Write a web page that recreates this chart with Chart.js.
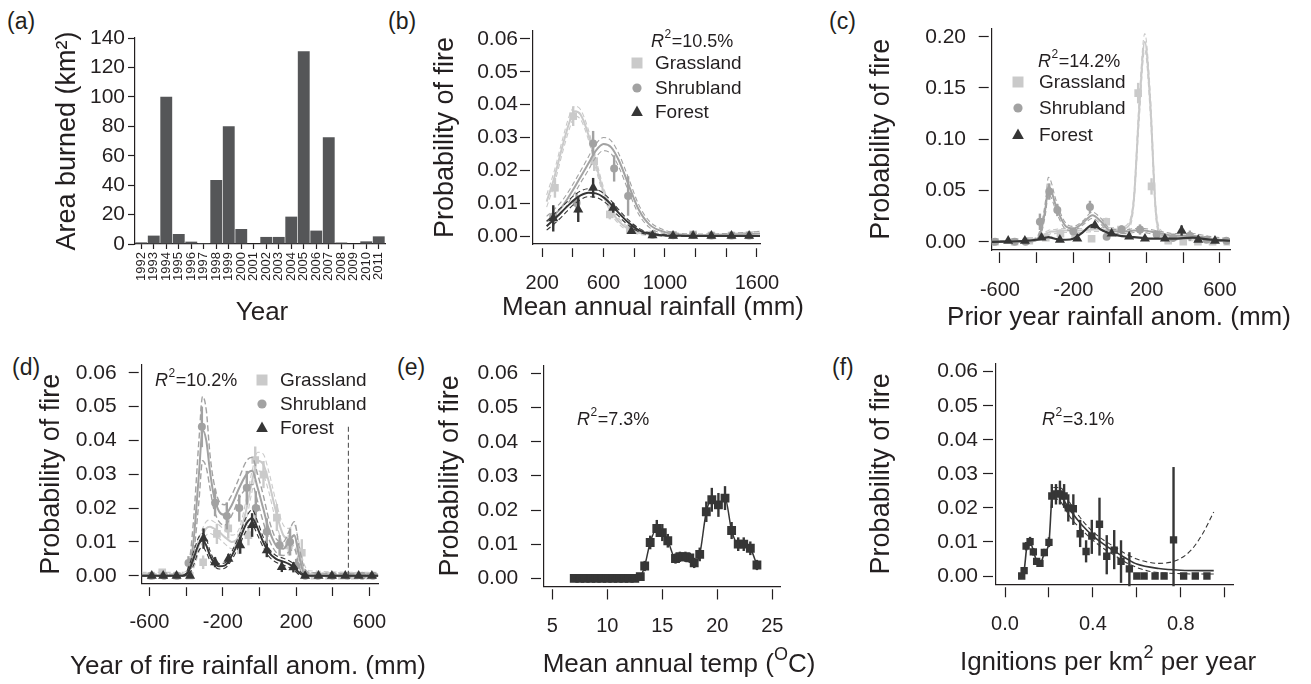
<!DOCTYPE html>
<html>
<head>
<meta charset="utf-8">
<script src="https://cdn.jsdelivr.net/npm/chart.js@4/dist/chart.umd.min.js"></script>
<style>
  body { margin: 0; background: #fff; width: 1311px; height: 684px; overflow: hidden; position: relative;
         font-family: "Liberation Sans", Arial, sans-serif; }
  canvas { position: absolute; }
  .tag { position: absolute; font-size: 23px; line-height: 1; color: #231f20; }
</style>
</head>
<body>
<div class="tag" style="left:7px;top:10px">(a)</div>
<div class="tag" style="left:388px;top:10px">(b)</div>
<div class="tag" style="left:829px;top:10px">(c)</div>
<div class="tag" style="left:12px;top:356px">(d)</div>
<div class="tag" style="left:397px;top:356px">(e)</div>
<div class="tag" style="left:832px;top:356px">(f)</div>
<script>
// ---------- data ----------
const years = ['1992','1993','1994','1995','1996','1997','1998','1999','2000','2001',
               '2002','2003','2004','2005','2006','2007','2008','2009','2010','2011'];
const areaBurned = [1.1, 5.7, 100, 6.8, 1.6, 0.7, 43.5, 80, 10.2, 0, 4.8, 4.8, 18.6, 131, 9.1, 72.5, 1.0, 0.3, 1.8, 5.2];

const landCover = ['Grassland', 'Shrubland', 'Forest'];
const r2Text = ['10.5%', '14.2%', '10.2%', '7.3%', '3.1%'];

// (b) mean annual rainfall
const bGrassX = [283, 402, 539, 641, 771, 917, 1053, 1184, 1303, 1434, 1549];
const bGrassY = [0.0147, 0.0365, 0.0228, 0.0066, 0.0020, 0.0005, 0.0004, 0.0005, 0.0002, 0.0002, 0.0002];
const bGrassErr = [0.003, 0.003, 0.003, 0.0015, 0.001, 0.0005, 0.0004, 0.0005, 0.0003, 0.0003, 0.0003];
const bShrubX = [272, 424, 532, 669, 760, 790, 919, 1053, 1184, 1303, 1434, 1549];
const bShrubY = [0.006, 0.0101, 0.0282, 0.0206, 0.0122, 0.0025, 0.0004, 0.0003, 0.0004, 0.0002, 0.0002, 0.0002];
const bShrubErr = [0.003, 0.003, 0.0038, 0.004, 0.006, 0.001, 0.0005, 0.0003, 0.0005, 0.0003, 0.0003, 0.0003];
const bForestX = [272, 435, 532, 663, 782, 919, 1053, 1184, 1303, 1434, 1549];
const bForestY = [0.0054, 0.0081, 0.0147, 0.0086, 0.0015, 0.0002, 0.0001, 0.0001, 0.0001, 0.0001, 0.0001];
const bForestErr = [0.004, 0.0038, 0.003, 0.0015, 0.0008, 0.0003, 0.0002, 0.0002, 0.0002, 0.0002, 0.0002];
const bFitX = [229, 280, 330, 380, 413, 450, 500, 550, 600, 650, 700, 760, 830, 900, 1000, 1100, 1250, 1400, 1620];
const bGrassFit = [0.0105, 0.018, 0.027, 0.035, 0.038, 0.037, 0.031, 0.022, 0.0135, 0.0078, 0.0045, 0.0022, 0.001, 0.0005, 0.0002, 0.0001, 0.0001, 0.0001, 0.0001];
const bGrassHi = [0.0125, 0.020, 0.029, 0.037, 0.0395, 0.0385, 0.0325, 0.0235, 0.0148, 0.0088, 0.0053, 0.0028, 0.0014, 0.0007, 0.0004, 0.0003, 0.0004, 0.0007, 0.0015];
const bGrassLo = [0.0088, 0.016, 0.025, 0.033, 0.0365, 0.0355, 0.0295, 0.0205, 0.0122, 0.0068, 0.0037, 0.0016, 0.0006, 0.0002, 0, 0, 0, 0, 0];
const bShrubFit = [0.0045, 0.0065, 0.009, 0.0125, 0.015, 0.018, 0.022, 0.026, 0.028, 0.027, 0.023, 0.016, 0.008, 0.0035, 0.0012, 0.0005, 0.0003, 0.0004, 0.0008];
const bShrubHi = [0.006, 0.0082, 0.0108, 0.0142, 0.0168, 0.0198, 0.024, 0.028, 0.030, 0.029, 0.025, 0.018, 0.0095, 0.0045, 0.0018, 0.0008, 0.0006, 0.0008, 0.0014];
const bShrubLo = [0.0032, 0.005, 0.0073, 0.0108, 0.0132, 0.0162, 0.020, 0.024, 0.026, 0.025, 0.021, 0.014, 0.0066, 0.0026, 0.0007, 0.0002, 0.0001, 0.0001, 0.0002];
const bForestFit = [0.003, 0.0052, 0.0075, 0.0098, 0.0112, 0.0124, 0.0132, 0.013, 0.0118, 0.0096, 0.007, 0.0042, 0.0018, 0.0007, 0.0002, 0.0001, 0, 0, 0];
const bForestHi = [0.0045, 0.0068, 0.009, 0.0112, 0.0126, 0.0137, 0.0144, 0.0142, 0.013, 0.0107, 0.008, 0.005, 0.0024, 0.001, 0.0004, 0.0002, 0.0001, 0.0001, 0.0001];
const bForestLo = [0.0018, 0.0038, 0.006, 0.0085, 0.0099, 0.0111, 0.012, 0.0118, 0.0106, 0.0085, 0.006, 0.0034, 0.0013, 0.0004, 0.0001, 0, 0, 0, 0];

// (c) prior year rainfall anomaly
const cGrassX = [-627, -520, -440, -350, -270, -190, -100, -20, 60, 154, 227, 318, 400, 480, 560, 640];
const cGrassY = [0, 0, 0.001, 0.004, 0.008, 0.006, 0.003, 0.0195, 0.012, 0.145, 0.054, 0.001, 0, 0, 0, 0];
const cGrassErr = [0.0005, 0.0005, 0.001, 0.003, 0.004, 0.003, 0.002, 0.004, 0.004, 0.01, 0.008, 0.003, 0.002, 0.001, 0.001, 0.001];
const cShrubX = [-627, -520, -460, -382, -331, -287, -200, -109, -18, 64, 164, 255, 345, 436, 527, 636];
const cShrubY = [0, 0, 0, 0.0195, 0.049, 0.031, 0.010, 0.034, 0.005, 0.012, 0.012, 0.007, 0.004, 0.006, 0.002, 0.001];
const cShrubErr = [0.0005, 0.0005, 0.0005, 0.008, 0.008, 0.006, 0.003, 0.006, 0.003, 0.004, 0.005, 0.004, 0.004, 0.005, 0.002, 0.001];
const cForestX = [-555, -464, -373, -273, -178, -82, 9, 105, 191, 300, 391, 482, 573];
const cForestY = [0.001, 0.001, 0.004, 0.002, 0.003, 0.016, 0.008, 0.005, 0.003, 0.003, 0.011, 0.002, 0.001];
const cForestErr = [0.0005, 0.0005, 0.0015, 0.001, 0.0015, 0.003, 0.002, 0.0015, 0.0015, 0.0015, 0.005, 0.0015, 0.001];
const cFitX = [-645, -450, -400, -370, -350, -336, -320, -300, -270, -240, -200, -150, -95, -50, 0, 50, 100, 130, 160, 190, 220, 250, 280, 350, 450, 550, 655];
const cGrassFit = [0, 0.0005, 0.003, 0.006, 0.008, 0.009, 0.010, 0.010, 0.011, 0.011, 0.011, 0.011, 0.012, 0.012, 0.012, 0.012, 0.015, 0.040, 0.130, 0.195, 0.135, 0.030, 0.008, 0.004, 0.003, 0.002, 0.001];
const cGrassHi = [0.001, 0.0015, 0.0045, 0.008, 0.010, 0.011, 0.012, 0.012, 0.013, 0.013, 0.013, 0.013, 0.014, 0.014, 0.014, 0.014, 0.018, 0.045, 0.140, 0.203, 0.145, 0.036, 0.011, 0.006, 0.005, 0.004, 0.003];
const cGrassLo = [0, 0, 0.0015, 0.004, 0.006, 0.007, 0.008, 0.008, 0.009, 0.009, 0.009, 0.009, 0.010, 0.010, 0.010, 0.010, 0.012, 0.035, 0.120, 0.187, 0.125, 0.025, 0.005, 0.002, 0.001, 0.0005, 0];
const cShrubFit = [0, 0, 0.002, 0.015, 0.035, 0.054, 0.050, 0.038, 0.024, 0.015, 0.013, 0.018, 0.026, 0.020, 0.011, 0.010, 0.010, 0.011, 0.011, 0.011, 0.010, 0.009, 0.008, 0.006, 0.006, 0.003, 0.001];
const cShrubHi = [0.001, 0.001, 0.004, 0.020, 0.042, 0.063, 0.058, 0.044, 0.028, 0.018, 0.015, 0.020, 0.029, 0.023, 0.013, 0.012, 0.012, 0.013, 0.013, 0.013, 0.012, 0.011, 0.010, 0.008, 0.008, 0.005, 0.003];
const cShrubLo = [0, 0, 0.001, 0.011, 0.029, 0.047, 0.043, 0.033, 0.020, 0.012, 0.011, 0.016, 0.023, 0.017, 0.009, 0.008, 0.008, 0.009, 0.009, 0.009, 0.008, 0.007, 0.006, 0.004, 0.004, 0.001, 0];
const cForestFit = [0, 0.001, 0.002, 0.003, 0.004, 0.0045, 0.004, 0.003, 0.002, 0.002, 0.003, 0.009, 0.0165, 0.012, 0.008, 0.006, 0.005, 0.0045, 0.004, 0.0035, 0.003, 0.003, 0.003, 0.003, 0.004, 0.002, 0.001];

// (d) year of fire rainfall anomaly
const dGrassX = [-590, -530, -450, -380, -307, -232, -170, -115, -60, -23, 22, 95, 160, 231, 300, 380, 450, 520, 600];
const dGrassY = [0, 0.001, 0, 0, 0.004, 0.0124, 0.014, 0.0094, 0.012, 0.0342, 0.0299, 0.0172, 0.009, 0.0068, 0, 0, 0, 0, 0];
const dGrassErr = [0.0005, 0.001, 0.0005, 0.0005, 0.002, 0.003, 0.003, 0.003, 0.003, 0.004, 0.004, 0.004, 0.003, 0.004, 0.0005, 0.0005, 0.0005, 0.0005, 0.0005];
const dShrubX = [-590, -520, -450, -387, -314, -242, -178, -110, -69, -20, 40, 110, 167, 200, 250, 320, 400, 480, 560, 620];
const dShrubY = [0, 0, 0, 0.0038, 0.044, 0.0216, 0.0177, 0.020, 0.026, 0.020, 0.013, 0.009, 0.010, 0.003, 0, 0, 0, 0, 0, 0];
const dShrubErr = [0.0005, 0.0005, 0.0005, 0.002, 0.006, 0.004, 0.004, 0.004, 0.005, 0.005, 0.004, 0.003, 0.004, 0.002, 0.0005, 0.0005, 0.0005, 0.0005, 0.0005, 0.0005];
const dForestX = [-587, -525, -452, -378, -305, -242, -169, -105, -40, 40, 122, 185, 249, 322, 395, 468, 541, 613];
const dForestY = [0, 0, 0, 0, 0.011, 0.004, 0.005, 0.009, 0.015, 0.0075, 0.0026, 0.0025, 0, 0, 0, 0, 0, 0];
const dForestErr = [0.0003, 0.0003, 0.0003, 0.0005, 0.003, 0.0015, 0.0015, 0.0025, 0.0035, 0.002, 0.0015, 0.0015, 0.0003, 0.0003, 0.0003, 0.0003, 0.0003, 0.0003];
const dFitX = [-642, -420, -390, -360, -330, -310, -290, -270, -250, -220, -190, -150, -110, -70, -40, -10, 20, 50, 90, 130, 160, 190, 215, 240, 270, 648];
const dGrassFit = [0, 0, 0.001, 0.004, 0.009, 0.012, 0.014, 0.0145, 0.014, 0.013, 0.0115, 0.010, 0.012, 0.020, 0.028, 0.034, 0.033, 0.028, 0.019, 0.012, 0.011, 0.012, 0.007, 0.002, 0.0005, 0];
const dGrassHi = [0.001, 0.001, 0.002, 0.006, 0.011, 0.014, 0.016, 0.0165, 0.016, 0.015, 0.0135, 0.012, 0.014, 0.023, 0.031, 0.0365, 0.036, 0.031, 0.022, 0.015, 0.014, 0.015, 0.010, 0.004, 0.0015, 0.001];
const dGrassLo = [0, 0, 0, 0.002, 0.007, 0.010, 0.012, 0.0125, 0.012, 0.011, 0.0095, 0.008, 0.010, 0.017, 0.025, 0.031, 0.030, 0.025, 0.016, 0.009, 0.008, 0.009, 0.004, 0.0005, 0, 0];
const dShrubFit = [0, 0, 0.001, 0.010, 0.030, 0.043, 0.040, 0.031, 0.024, 0.019, 0.018, 0.021, 0.026, 0.030, 0.031, 0.026, 0.020, 0.014, 0.009, 0.008, 0.010, 0.012, 0.006, 0.001, 0, 0];
const dShrubHi = [0.0005, 0.0005, 0.002, 0.016, 0.040, 0.053, 0.049, 0.036, 0.028, 0.022, 0.021, 0.024, 0.029, 0.034, 0.035, 0.030, 0.024, 0.017, 0.011, 0.010, 0.013, 0.016, 0.009, 0.003, 0.001, 0.0005];
const dShrubLo = [0, 0, 0, 0.006, 0.022, 0.034, 0.032, 0.026, 0.020, 0.016, 0.015, 0.018, 0.023, 0.026, 0.027, 0.022, 0.016, 0.011, 0.007, 0.006, 0.007, 0.008, 0.003, 0, 0, 0];
const dForestFit = [0, 0, 0.001, 0.005, 0.0095, 0.0105, 0.009, 0.006, 0.004, 0.0028, 0.003, 0.006, 0.0105, 0.0155, 0.017, 0.014, 0.010, 0.007, 0.005, 0.0042, 0.0035, 0.0025, 0.001, 0.0002, 0, 0];
const dForestHi = [0, 0, 0.002, 0.007, 0.0115, 0.0125, 0.011, 0.0075, 0.005, 0.0036, 0.0038, 0.0072, 0.012, 0.0175, 0.0195, 0.016, 0.0115, 0.0082, 0.006, 0.0052, 0.0045, 0.0034, 0.0016, 0.0005, 0.0001, 0];
const dForestLo = [0, 0, 0, 0.003, 0.0075, 0.0085, 0.007, 0.0045, 0.003, 0.002, 0.0022, 0.0048, 0.009, 0.0135, 0.015, 0.012, 0.0085, 0.0058, 0.004, 0.0032, 0.0025, 0.0016, 0.0004, 0, 0, 0];
const dSpikeX = [485, 485];
const dSpikeY = [0, 0.044];

// (e) mean annual temperature
const eTemp = [7.0, 7.5, 8.0, 8.5, 9.0, 9.5, 10.0, 10.5, 11.0, 11.5, 12.0, 12.5, 13.0, 13.4, 13.9, 14.5, 15.0, 15.5,
               16.2, 16.6, 17.1, 17.5, 17.9, 18.4, 19.0, 19.5, 20.1, 20.7, 21.3, 21.9, 22.4, 23.0, 23.6];
const eProb = [0, 0, 0, 0, 0, 0, 0, 0, 0, 0, 0, 0, 0.0005, 0.0036, 0.0105, 0.0146, 0.0134, 0.011,
               0.0058, 0.0063, 0.0063, 0.006, 0.0045, 0.007, 0.0195, 0.023, 0.0215, 0.0235, 0.014, 0.010, 0.010, 0.0088, 0.0039];
const eErr = [0.0003, 0.0003, 0.0003, 0.0003, 0.0003, 0.0003, 0.0003, 0.0003, 0.0003, 0.0003, 0.0003, 0.0003, 0.0005, 0.0015, 0.002, 0.0025, 0.0025, 0.002,
              0.0015, 0.0015, 0.0015, 0.0015, 0.0015, 0.002, 0.003, 0.0035, 0.0035, 0.0035, 0.0025, 0.002, 0.002, 0.002, 0.0015];

// (f) ignitions
const fIgn = [0.076, 0.087, 0.096, 0.114, 0.129, 0.144, 0.159, 0.179, 0.200, 0.213, 0.232, 0.250, 0.269, 0.288, 0.311, 0.342,
              0.369, 0.395, 0.430, 0.463, 0.497, 0.528, 0.566, 0.600, 0.633, 0.683, 0.724, 0.767, 0.813, 0.866, 0.919];
const fProb = [0, 0.0016, 0.0088, 0.0101, 0.0071, 0.0043, 0.0037, 0.0069, 0.0099, 0.0235, 0.0241, 0.0241, 0.0235, 0.020, 0.0198, 0.0124,
               0.0072, 0.0117, 0.0152, 0.0058, 0.0076, 0.0043, 0.0021, 0, 0, 0, 0, 0.0106, 0, 0, 0];
const fLo = [0, 0.0008, 0.0075, 0.0088, 0.006, 0.0035, 0.003, 0.0058, 0.0085, 0.020, 0.021, 0.021, 0.020, 0.016, 0.015, 0.0085,
             0.004, 0.0065, 0.006, 0.0005, 0.002, -0.002, -0.003, 0, 0, 0, 0, -0.003, 0, 0, 0];
const fHi = [0, 0.0024, 0.010, 0.0115, 0.0082, 0.0052, 0.0045, 0.008, 0.0114, 0.027, 0.027, 0.028, 0.027, 0.024, 0.024, 0.0165,
             0.0105, 0.0165, 0.023, 0.012, 0.0135, 0.0105, 0.007, 0, 0, 0, 0, 0.032, 0, 0, 0];
const fFitX = [0.076, 0.087, 0.1, 0.114, 0.13, 0.145, 0.16, 0.18, 0.2, 0.215, 0.24, 0.27, 0.3, 0.35, 0.4, 0.45, 0.5, 0.55, 0.6, 0.7, 0.8, 0.9, 0.95];
const fFitY = [0, 0.0016, 0.0088, 0.0101, 0.0071, 0.0043, 0.0037, 0.0069, 0.0099, 0.0235, 0.0245, 0.022, 0.019, 0.015, 0.0118, 0.0093, 0.0072, 0.0052, 0.0035, 0.0022, 0.0017, 0.0016, 0.0016];
const fBandX = [0.22, 0.25, 0.3, 0.35, 0.4, 0.45, 0.5, 0.55, 0.6, 0.65, 0.7, 0.75, 0.8, 0.85, 0.9, 0.95];
const fBandHi = [0.026, 0.026, 0.021, 0.0165, 0.013, 0.0105, 0.0085, 0.0065, 0.005, 0.0041, 0.0037, 0.004, 0.0052, 0.0078, 0.0125, 0.0188];
const fBandLo = [0.023, 0.022, 0.017, 0.0135, 0.0105, 0.008, 0.006, 0.004, 0.0025, 0.0015, 0.001, 0.0008, 0.0007, 0.0006, 0.0006, 0.0006];

const probTicks = [0, 0.01, 0.02, 0.03, 0.04, 0.05, 0.06];
const anomTicks = [-600, -400, -200, 0, 200, 400, 600];
const anomLabels = [-600, -200, 200, 600];

// ---------- drawing ----------
const INK = '#231f20';
const GRASS = '#cacaca', SHRUB = '#a2a2a2', FOREST = '#363636', BAR = '#555658';
const FONT = '"Liberation Sans", Arial, sans-serif';
const TICK_FS = 20, YTICK_FS = 21, YTITLE_FS = 27, XTITLE_FS = 26;
Chart.defaults.font.family = FONT;
Chart.defaults.color = INK;
Chart.defaults.animation = false;

const legendItems = [
  { label: landCover[0], style: 'rect', color: GRASS, r: 5.5 },
  { label: landCover[1], style: 'circle', color: SHRUB, r: 4.6 },
  { label: landCover[2], style: 'triangle', color: FOREST, r: 6.5 }
];

function pts(xs, ys) { return xs.map((x, i) => ({ x: x, y: ys[i] })); }

function line(xs, ys, col, w, dash, tension) {
  return { data: pts(xs, ys), showLine: true, pointRadius: 0, borderColor: col, backgroundColor: col,
           borderWidth: w, borderDash: dash, cubicInterpolationMode: tension === 0 ? 'default' : 'monotone',
           tension: 0, fill: false };
}

function marks(xs, ys, lo, hi, col, style, r) {
  return { data: pts(xs, ys), showLine: false, pointStyle: style, pointRadius: r, backgroundColor: col,
           borderColor: col, borderWidth: 0, errLo: lo, errHi: hi, errColor: col };
}

function withErr(ys, err, sign) { return ys.map((v, i) => v + sign * err[i]); }

// painter's order: first pushed is drawn first (bottom)
function stack(sets) { sets.forEach((d, i) => { d.order = sets.length - i; }); return sets; }

const errorBars = {
  id: 'errorBars',
  afterDatasetDraw(chart, args) {
    const ds = chart.data.datasets[args.index];
    if (!ds.errLo) return;
    const xs = chart.scales.x, ys = chart.scales.y, ctx = chart.ctx;
    ctx.save();
    ctx.strokeStyle = ds.errColor;
    ctx.lineWidth = 2.4;
    ds.data.forEach((p, i) => {
      const px = xs.getPixelForValue(p.x);
      ctx.beginPath();
      ctx.moveTo(px, ys.getPixelForValue(ds.errLo[i]));
      ctx.lineTo(px, ys.getPixelForValue(ds.errHi[i]));
      ctx.stroke();
    });
    ctx.restore();
  }
};

function marker(ctx, style, x, y, r) {
  ctx.beginPath();
  if (style === 'rect') ctx.rect(x - r, y - r, 2 * r, 2 * r);
  else if (style === 'circle') ctx.arc(x, y, r, 0, Math.PI * 2);
  else { ctx.moveTo(x, y - r); ctx.lineTo(x + r * 0.9, y + r * 0.62); ctx.lineTo(x - r * 0.9, y + r * 0.62); ctx.closePath(); }
  ctx.fill();
}

// text runs: plain strings, or {sup: '2'} for a raised small part
function richText(ctx, runs, cx, cy, size) {
  const big = size + 'px ' + FONT, small = Math.round(size * 0.68) + 'px ' + FONT;
  let w = 0;
  runs.forEach(r => { ctx.font = typeof r === 'string' ? big : small; w += ctx.measureText(typeof r === 'string' ? r : r.sup).width; });
  let x = cx - w / 2;
  runs.forEach(r => {
    const s = typeof r === 'string';
    ctx.font = s ? big : small;
    const t = s ? r : r.sup;
    ctx.fillText(t, x, s ? cy : cy - size * 0.38);
    x += ctx.measureText(t).width;
  });
}

const notes = {
  id: 'notes',
  afterDraw(chart, args, o) {
    const ctx = chart.ctx;
    ctx.save();
    ctx.textBaseline = 'middle';
    ctx.textAlign = 'left';
    ctx.fillStyle = INK;
    if (o.xTitle) richText(ctx, o.xTitle.runs, o.xTitle.x - o.ox, o.xTitle.y - o.oy, XTITLE_FS);
    if (o.r2) {
      let x = o.r2.x - o.ox;
      const y = o.r2.y - o.oy;
      ctx.font = 'italic 18px ' + FONT;
      ctx.fillText('R', x, y);
      x += ctx.measureText('R').width + 0.5;
      ctx.font = '12px ' + FONT;
      ctx.fillText('2', x, y - 7);
      x += ctx.measureText('2').width + 0.5;
      ctx.font = '18px ' + FONT;
      ctx.fillText('=' + o.r2.text, x, y);
    }
    if (o.legend) {
      ctx.font = '19px ' + FONT;
      o.legend.rows.forEach((ry, i) => {
        const it = legendItems[i];
        ctx.fillStyle = it.color;
        marker(ctx, it.style, o.legend.mx - o.ox, ry - o.oy, it.r);
        ctx.fillStyle = INK;
        ctx.fillText(it.label, o.legend.tx - o.ox, ry - o.oy + 1);
      });
    }
    ctx.restore();
  }
};

function panel(p) {
  const [cx, cy, cw, ch] = p.rect;
  const [bl, bt, br, bb] = p.box;
  const cv = document.createElement('canvas');
  cv.width = cw; cv.height = ch;
  cv.style.left = cx + 'px'; cv.style.top = cy + 'px';
  document.body.appendChild(cv);
  const yTitleLH = YTITLE_FS * 1.2, tickLH = (p.x.fs || TICK_FS) * 1.2;

  const x = {
    border: { display: true, color: INK, width: 1.2 },
    grid: { display: true, drawOnChartArea: false, offset: false, tickLength: p.x.tl, tickBorderDash: p.x.dash || [],
            tickColor: INK, tickWidth: 1.2 },
    ticks: { color: INK, font: { size: p.x.fs || TICK_FS }, autoSkip: false,
             minRotation: p.x.rot || 0, maxRotation: p.x.rot || 0,
             padding: p.x.rot ? p.x.pad : p.x.labelY - bb - p.x.tl - tickLH / 2 },
    title: { display: false },
    afterFit: s => { s.height = cy + ch - bb; }
  };
  if (p.x.ticksAt) {
    x.type = 'linear'; x.min = p.x.min; x.max = p.x.max;
    x.afterBuildTicks = s => { s.ticks = p.x.ticksAt.map(v => ({ value: v })); };
    x.ticks.callback = v => p.x.labels.includes(v) ? p.x.fmt(v) : '';
  }
  const y = {
    type: 'linear', min: p.y.min, max: p.y.max,
    border: { display: true, color: INK, width: 1.2 },
    grid: { display: true, drawOnChartArea: false, tickLength: p.y.tl, tickBorderDash: p.y.dash || [],
            tickColor: INK, tickWidth: 1.2 },
    ticks: { color: INK, font: { size: YTICK_FS }, padding: bl - p.y.tl - p.y.labelRight, callback: p.y.fmt },
    afterBuildTicks: s => { s.ticks = p.y.ticksAt.map(v => ({ value: v })); },
    title: { display: true, text: p.y.title, color: INK, font: { size: YTITLE_FS },
             padding: { top: p.y.titleX - cx - yTitleLH / 2, bottom: 0 } },
    afterFit: s => { s.width = bl - cx; }
  };
  const notesOpt = { ox: cx, oy: cy, xTitle: { runs: p.x.title, x: p.x.titleX, y: p.x.titleY } };
  if (p.r2) notesOpt.r2 = p.r2;
  if (p.legend) notesOpt.legend = p.legend;

  new Chart(cv, {
    type: p.type || 'scatter',
    data: { labels: p.labels, datasets: p.datasets },
    options: {
      responsive: false, devicePixelRatio: 1, animation: false,
      layout: { padding: { left: 0, top: bt - cy, right: cx + cw - br, bottom: 0 } },
      scales: { x: x, y: y },
      plugins: { legend: { display: false }, tooltip: { enabled: false }, notes: notesOpt }
    },
    plugins: [errorBars, notes]
  });
}

const probFmt = v => v.toFixed(2);
const intFmt = v => String(v);

// (a)
panel({
  type: 'bar', rect: [0, 0, 400, 335], box: [135, 38, 385, 244], labels: years,
  datasets: [{ data: areaBurned, backgroundColor: BAR, barPercentage: 1, categoryPercentage: 0.95, borderWidth: 0 }],
  x: { title: ['Year'], titleX: 262, titleY: 313, tl: 5, pad: 3, fs: 13, rot: 90 },
  y: { title: 'Area burned (km²)', min: 0, max: 140, ticksAt: [0, 20, 40, 60, 80, 100, 120, 140], fmt: intFmt,
       tl: 7, labelRight: 125, titleX: 68 }
});

// (b)
panel({
  rect: [385, 0, 430, 335], box: [533, 31, 760, 244],
  datasets: stack([
    line(bFitX, bGrassHi, GRASS, 1.1, [5, 3]), line(bFitX, bGrassLo, GRASS, 1.1, [5, 3]), line(bFitX, bGrassFit, GRASS, 2, []),
    marks(bGrassX, bGrassY, withErr(bGrassY, bGrassErr, -1), withErr(bGrassY, bGrassErr, 1), GRASS, 'rect', 5.4),
    line(bFitX, bShrubHi, SHRUB, 1.1, [5, 3]), line(bFitX, bShrubLo, SHRUB, 1.1, [5, 3]), line(bFitX, bShrubFit, SHRUB, 2, []),
    marks(bShrubX, bShrubY, withErr(bShrubY, bShrubErr, -1), withErr(bShrubY, bShrubErr, 1), SHRUB, 'circle', 4),
    line(bFitX, bForestHi, FOREST, 1.1, [5, 3]), line(bFitX, bForestLo, FOREST, 1.1, [5, 3]), line(bFitX, bForestFit, FOREST, 2, []),
    marks(bForestX, bForestY, withErr(bForestY, bForestErr, -1), withErr(bForestY, bForestErr, 1), FOREST, 'triangle', 5.8)
  ]),
  x: { title: ['Mean annual rainfall (mm)'], titleX: 653, titleY: 308, min: 140, max: 1620,
       ticksAt: [200, 400, 600, 800, 1000, 1200, 1400, 1600], labels: [200, 600, 1000, 1600], fmt: intFmt,
       tl: 13, dash: [0, 4, 9, 100], labelY: 283 },
  y: { title: 'Probability of fire', min: -0.0024, max: 0.0624, ticksAt: probTicks, fmt: probFmt,
       tl: 13, dash: [10, 100], labelRight: 518, titleX: 446 },
  r2: { text: r2Text[0], x: 651, y: 42 },
  legend: { mx: 637, tx: 655, rows: [63, 88, 112] }
});

// (c)
panel({
  rect: [825, 0, 486, 335], box: [991.7, 28.5, 1230, 250],
  datasets: stack([
    line(cFitX, cGrassHi, GRASS, 1.1, [5, 3]), line(cFitX, cGrassLo, GRASS, 1.1, [5, 3]), line(cFitX, cGrassFit, GRASS, 2, []),
    marks(cGrassX, cGrassY, withErr(cGrassY, cGrassErr, -1), withErr(cGrassY, cGrassErr, 1), GRASS, 'rect', 5.4),
    line(cFitX, cShrubHi, SHRUB, 1.1, [5, 3]), line(cFitX, cShrubLo, SHRUB, 1.1, [5, 3]), line(cFitX, cShrubFit, SHRUB, 2, []),
    marks(cShrubX, cShrubY, withErr(cShrubY, cShrubErr, -1), withErr(cShrubY, cShrubErr, 1), SHRUB, 'circle', 4),
    line(cFitX, cForestFit, FOREST, 2.2, []),
    marks(cForestX, cForestY, withErr(cForestY, cForestErr, -1), withErr(cForestY, cForestErr, 1), FOREST, 'triangle', 5.8)
  ]),
  x: { title: ['Prior year rainfall anom. (mm)'], titleX: 1119, titleY: 318, min: -645, max: 655,
       ticksAt: anomTicks, labels: anomLabels, fmt: intFmt, tl: 13, dash: [0, 2, 11, 100], labelY: 290 },
  y: { title: 'Probability of fire', min: -0.008, max: 0.208, ticksAt: [0, 0.05, 0.1, 0.15, 0.2], fmt: probFmt,
       tl: 13, dash: [10, 100], labelRight: 966, titleX: 882 },
  r2: { text: r2Text[1], x: 1038, y: 62 },
  legend: { mx: 1018, tx: 1039, rows: [82, 108, 135] }
});

// (d)
panel({
  rect: [0, 340, 450, 344], box: [141.7, 361.8, 378.3, 583.9],
  datasets: stack([
    line(dFitX, dGrassHi, GRASS, 1.1, [5, 3]), line(dFitX, dGrassLo, GRASS, 1.1, [5, 3]), line(dFitX, dGrassFit, GRASS, 2, []),
    marks(dGrassX, dGrassY, withErr(dGrassY, dGrassErr, -1), withErr(dGrassY, dGrassErr, 1), GRASS, 'rect', 5.4),
    line(dFitX, dShrubHi, SHRUB, 1.4, [6, 3]), line(dFitX, dShrubLo, SHRUB, 1.4, [6, 3]), line(dFitX, dShrubFit, SHRUB, 2, []),
    marks(dShrubX, dShrubY, withErr(dShrubY, dShrubErr, -1), withErr(dShrubY, dShrubErr, 1), SHRUB, 'circle', 4),
    line(dSpikeX, dSpikeY, '#555555', 1.1, [5, 3], 0),
    line(dFitX, dForestHi, FOREST, 1.1, [5, 3]), line(dFitX, dForestLo, FOREST, 1.1, [5, 3]), line(dFitX, dForestFit, FOREST, 2, []),
    marks(dForestX, dForestY, withErr(dForestY, dForestErr, -1), withErr(dForestY, dForestErr, 1), FOREST, 'triangle', 5.8)
  ]),
  x: { title: ['Year of fire rainfall anom. (mm)'], titleX: 248, titleY: 667, min: -642, max: 648,
       ticksAt: anomTicks, labels: anomLabels, fmt: intFmt, tl: 12, dash: [0, 3, 9, 100], labelY: 622.3 },
  y: { title: 'Probability of fire', min: -0.0024, max: 0.0624, ticksAt: probTicks, fmt: probFmt,
       tl: 13, dash: [10, 100], labelRight: 116.7, titleX: 52 },
  r2: { text: r2Text[2], x: 155, y: 381 },
  legend: { mx: 262, tx: 280, rows: [380, 404, 428] }
});

// (e)
panel({
  rect: [395, 340, 430, 344], box: [544, 365.1, 780.7, 586.5],
  datasets: stack([
    Object.assign(marks(eTemp, eProb, withErr(eProb, eErr, -1), withErr(eProb, eErr, 1), FOREST, 'rect', 5.2),
                  { showLine: true, borderWidth: 1.5, cubicInterpolationMode: 'monotone' })
  ]),
  x: { title: ['Mean annual temp (', { sup: 'O' }, 'C)'], titleX: 679, titleY: 665, min: 4.25, max: 25.76,
       ticksAt: [5, 10, 15, 20, 25], labels: [5, 10, 15, 20, 25], fmt: intFmt, tl: 13, dash: [0, 2, 11, 100], labelY: 626.7 },
  y: { title: 'Probability of fire', min: -0.0024, max: 0.0624, ticksAt: probTicks, fmt: probFmt,
       tl: 13, dash: [10, 100], labelRight: 518.3, titleX: 451 },
  r2: { text: r2Text[3], x: 577, y: 420 }
});

// (f)
panel({
  rect: [830, 340, 481, 344], box: [996, 363.5, 1233.3, 584.2],
  datasets: stack([
    line(fBandX, fBandHi, FOREST, 1.1, [5, 3]), line(fBandX, fBandLo, FOREST, 1.1, [5, 3]),
    line(fFitX, fFitY, FOREST, 1.6, []),
    marks(fIgn, fProb, fLo, fHi, FOREST, 'rect', 5.2)
  ]),
  x: { title: ['Ignitions per km', { sup: '2' }, ' per year'], titleX: 1108, titleY: 663, min: -0.041, max: 1.039,
       ticksAt: [0, 0.2, 0.4, 0.6, 0.8, 1.0], labels: [0, 0.4, 0.8], fmt: v => v.toFixed(1),
       tl: 13, dash: [0, 2, 11, 100], labelY: 624 },
  y: { title: 'Probability of fire', min: -0.0024, max: 0.0624, ticksAt: probTicks, fmt: probFmt,
       tl: 13, dash: [10, 100], labelRight: 978, titleX: 881.7 },
  r2: { text: r2Text[4], x: 1042, y: 420 }
});
</script>
</body>
</html>
